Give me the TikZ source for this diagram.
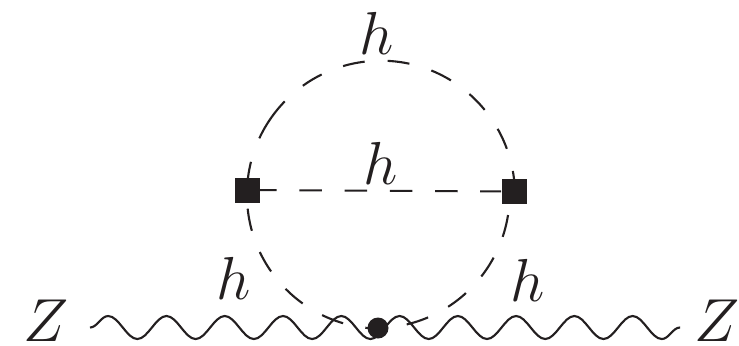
\documentclass[tikz,border=0pt]{standalone}
\usepackage{amsmath, amssymb}
\usepackage{xcolor}
\usetikzlibrary{decorations.pathmorphing}
\definecolor{ink}{HTML}{231F20}
\tikzset{
  higgs/.style={color=ink, line width=0.6pt, dash pattern=on 0.225cm off 0.227cm},
  higgstop/.style={color=ink, line width=0.6pt,
    dash pattern=on 0.285cm off 0.25cm on 0.45cm off 0.24cm on 0.22cm off 0.23cm
      on 0.22cm off 0.23cm on 0.22cm off 0.23cm on 0.22cm off 0.23cm
      on 0.22cm off 0.23cm on 0.22cm off 0.23cm on 0.22cm off 0.23cm},
  zwave/.style={color=ink, line width=0.6pt, decorate,
    decoration={snake, segment length=0.5827cm, amplitude=0.115cm}},
  vertex/.style={draw=none, fill=ink, minimum size=0.25cm, inner sep=0pt},
  blob/.style={circle, fill=ink, minimum size=0.21cm, inner sep=0pt},
  lbl/.style={inner sep=0pt, text=ink, font=\fontsize{16.5}{20}\selectfont}
}
\begin{document}
\begin{tikzpicture}
    % Diagram: two-loop correction on a Z line.
    % Coordinates: (x, y), 1 px of the picture = 0.01cm
    %   loop radius 1.34cm, centre near (3.81,1.50)
    %   wave y=0.175 from x=0.90 to x=6.80
    \useasboundingbox (0,0) rectangle (7.39,3.45);
    \coordinate (waveL) at (0.90,0.175);
    \coordinate (waveR) at (6.80,0.175);
    \coordinate (vertL) at (2.47,1.55);
    \coordinate (vertR) at (5.143,1.535);
    \coordinate (vertB) at (3.78,0.17);
    \draw[higgstop] (vertL) arc[start angle=178, end angle=1, radius=1.34];
    \draw[higgs, dash phase=0.265cm] (vertL) arc[start angle=178, end angle=271, radius=1.34];
    \draw[higgs, dash phase=0.162cm] (vertB) arc[start angle=271, end angle=359, radius=1.34];
    \draw[zwave] (waveL) -- (waveR);
    \node[vertex] (squareL) at (vertL) {};
    \node[vertex] (squareR) at (vertR) {};
    \node[blob] (dotB) at (vertB) {};
    \draw[higgs, dash phase=0.06cm] (squareL) -- (squareR);
    \node[lbl] (hTop) at (3.77,3.12) {$h$};
    \node[lbl] (hMid) at (3.81,1.82) {$h$};
    \node[lbl] (hLeft) at (2.34,0.67) {$h$};
    \node[lbl] (hRight) at (5.28,0.65) {$h$};
    \node[lbl] (zLeft) at (0.46,0.245) {$Z$};
    \node[lbl] (zRight) at (7.17,0.245) {$Z$};
  \end{tikzpicture}
\end{document}
